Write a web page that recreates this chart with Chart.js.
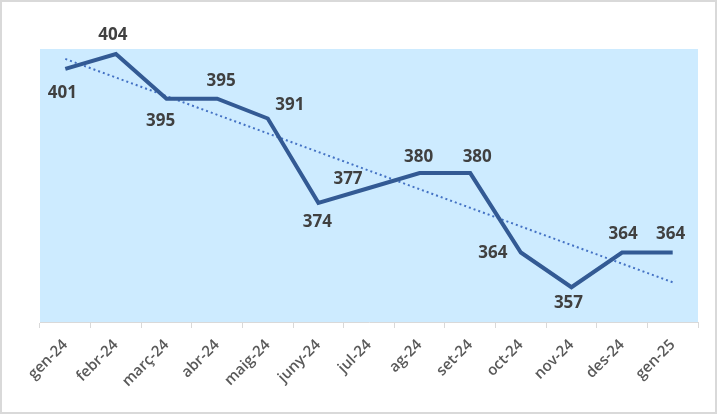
<!DOCTYPE html>
<html>
<head>
<meta charset="utf-8">
<script src="https://cdn.jsdelivr.net/npm/chart.js@4"></script>
<style>
  html, body { margin: 0; padding: 0; background: #fff; }
  #wrap { width: 717px; height: 414px; position: relative; }
</style>
</head>
<body>
<div id="wrap"><canvas id="grafic"></canvas></div>
<script>
// Dades
const mesos = ['gen-24', 'febr-24', 'març-24', 'abr-24', 'maig-24', 'juny-24', 'jul-24',
               'ag-24', 'set-24', 'oct-24', 'nov-24', 'des-24', 'gen-25'];
const valors = [401, 404, 395, 395, 391, 374, 377, 380, 380, 364, 357, 364, 364];
// tendència lineal llegida del gràfic (extrems)
const tendenciaInici = 403;
const tendenciaFinal = 358;

// posició de les etiquetes respecte al punt (dx, dy)
const posEtiquetes = [
    [-3, 24], [-3, -19], [-6, 23], [4, -17], [22, -13], [-1, 19], [-21, -9],
    [-1, -16], [7, -16], [-28, 1], [-3, 16], [1, -18], [-2, -18]
];

const tendencia = valors.map((v, i) => i === 0 ? tendenciaInici : (i === valors.length - 1 ? tendenciaFinal : null));

const fonsPlugin = {
    id: 'fons',
    beforeDraw(chart) {
        const ctx = chart.ctx;
        const a = chart.chartArea;
        ctx.save();
        ctx.fillStyle = '#ffffff';
        ctx.fillRect(0, 0, chart.width, chart.height);
        ctx.fillStyle = '#cdebff';
        ctx.fillRect(a.left, a.top, a.right - a.left, a.bottom - a.top);
        ctx.strokeStyle = '#d9d9d9';
        ctx.lineWidth = 2;
        ctx.strokeRect(1, 1, chart.width - 2, chart.height - 2);
        ctx.restore();
    }
};

const etiquetesPlugin = {
    id: 'etiquetes',
    afterDatasetsDraw(chart) {
        const ctx = chart.ctx;
        const meta = chart.getDatasetMeta(1);
        ctx.save();
        ctx.font = 'bold 17px "Open Sans"';
        ctx.fillStyle = '#404040';
        ctx.textAlign = 'center';
        ctx.textBaseline = 'middle';
        meta.data.forEach((pt, i) => {
            const off = posEtiquetes[i];
            ctx.fillText(String(valors[i]), pt.x + off[0], pt.y + off[1]);
        });
        ctx.restore();
    }
};

document.addEventListener('DOMContentLoaded', function() {
    const canvas = document.getElementById('grafic');
    new Chart(canvas, {
        type: 'line',
        data: {
            labels: mesos,
            datasets: [{
                label: 'Tendència',
                data: tendencia,
                spanGaps: true,
                borderColor: '#4472c4',
                borderWidth: 2,
                borderDash: [2, 3],
                pointRadius: 0,
                fill: false,
                order: 2
            }, {
                label: 'Valors',
                data: valors,
                borderColor: '#335a94',
                borderWidth: 4,
                pointRadius: 0,
                tension: 0,
                fill: false,
                order: 1
            }]
        },
        options: {
            responsive: true,
            maintainAspectRatio: false,
            animation: false,
            layout: {
                padding: { left: 40, right: 19, top: 49, bottom: 0 }
            },
            scales: {
                x: {
                    offset: true,
                    afterFit: function(scale) { scale.height = 92; },
                    grid: {
                        display: true,
                        offset: true,
                        drawOnChartArea: false,
                        drawTicks: true,
                        tickLength: 6,
                        color: '#d9d9d9'
                    },
                    border: { display: true, color: '#d9d9d9' },
                    ticks: {
                        autoSkip: false,
                        maxRotation: 45,
                        minRotation: 45,
                        color: '#595959',
                        font: { family: '"Open Sans"', size: 15, weight: '600' },
                        padding: 8
                    }
                },
                y: {
                    display: false,
                    min: 350,
                    max: 405
                }
            },
            plugins: {
                legend: { display: false },
                tooltip: { enabled: false }
            }
        },
        plugins: [fonsPlugin, etiquetesPlugin]
    });
});
</script>
</body>
</html>
